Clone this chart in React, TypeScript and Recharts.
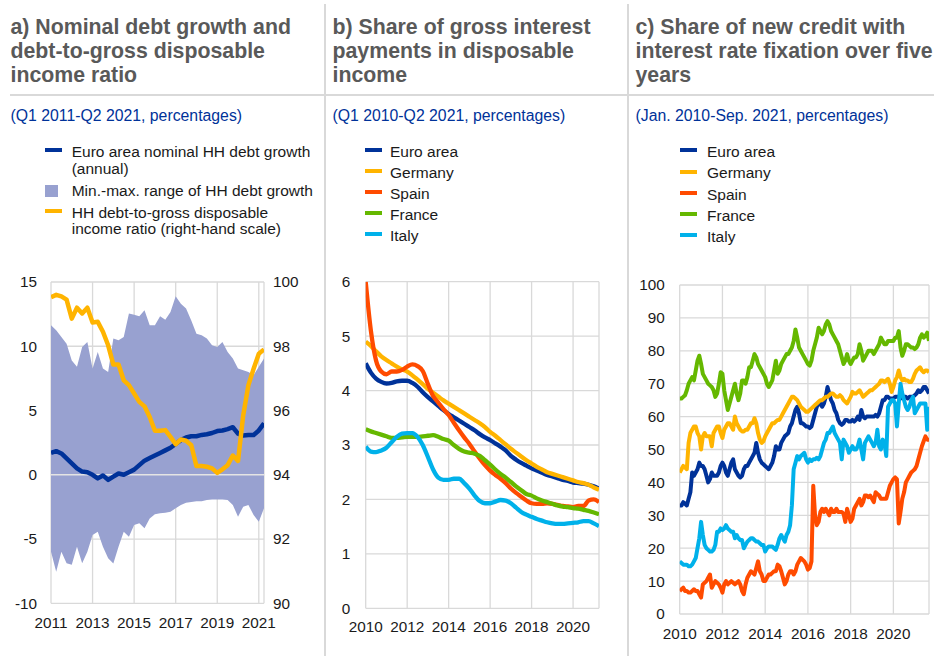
import React from "react";
import {
  ComposedChart,
  LineChart,
  Line,
  Area,
  XAxis,
  YAxis,
  CartesianGrid,
  ReferenceLine,
} from "recharts";

const FONT = "'Liberation Sans', Arial, Helvetica, sans-serif";
const C_EA = "#003299";
const C_DE = "#ffb400";
const C_ES = "#ff4b00";
const C_FR = "#65b800";
const C_IT = "#00b1ea";
const C_BAND = "#98a1d0";
const GRID = "#d9d9d9";
const TITLE = "#595959";
const SUB = "#003299";

// ---------------- Panel a (quarterly, Q1 2011 - Q2 2021) ----------------
const aStart = { year: 2011, q: 1, count: 42 };
const aEaGrowth = [
  1.7, 1.84, 1.66, 1.27, 0.88, 0.5, 0.25, 0.2, 0.0, -0.28, -0.05, -0.4, -0.15, 0.1, 0.0, 0.2,
  0.4, 0.75, 1.1, 1.3, 1.5, 1.7, 1.9, 2.1, 2.4, 2.7, 2.9, 3.0, 3.0, 3.1, 3.15, 3.25,
  3.4, 3.45, 3.55, 3.7, 3.2, 3.05, 3.1, 3.1, 3.45, 4.0,
];
const aRangeMin = [
  -5.98, -7.54, -5.98, -6.89, -7.0, -5.6, -6.89, -5.98, -4.69, -4.43, -5.6, -6.5, -6.9, -5.6, -4.43, -4.82,
  -3.91, -3.78, -4.17, -3.4, -3.08, -3.0, -2.95, -2.87, -2.6, -2.35, -2.17, -2.12, -2.05, -2.05, -1.97, -1.92,
  -1.92, -1.92, -1.97, -2.35, -3.26, -2.48, -2.35, -3.13, -3.65, -2.6,
];
const aRangeMax = [
  11.63, 11.24, 10.73, 10.2, 8.9, 8.4, 9.95, 10.34, 8.26, 9.56, 8.26, 8.0, 10.6, 10.47, 10.73, 12.54,
  12.46, 12.33, 12.8, 11.63, 11.63, 12.33, 12.07, 12.67, 13.89, 13.3, 12.93, 12.0, 10.98, 10.85, 10.6, 10.08,
  9.95, 10.34, 9.56, 9.04, 8.26, 8.13, 8.0, 7.75, 8.4, 9.04,
];
const aDebtRatio = [
  99.53, 99.6, 99.55, 99.45, 98.86, 99.2, 99.02, 99.2, 98.74, 98.76, 98.45, 98.03, 97.43, 97.43, 96.94, 96.79,
  96.53, 96.27, 96.13, 95.8, 95.37, 95.37, 95.39, 95.18, 94.95, 95.1, 95.06, 94.92, 94.27, 94.27, 94.25, 94.2,
  94.06, 94.17, 94.3, 94.6, 94.43, 95.85, 96.79, 97.3, 97.77, 97.9,
];
const aYearTicks = [2011, 2013, 2015, 2017, 2019, 2021];
const aLeftTicks = [-10, -5, 0, 5, 10, 15];
const aRightTicks = [90, 92, 94, 96, 98, 100];

// ---------------- Panel b (quarterly, Q1 2010 - Q2 2021) ----------------
const bStart = { year: 2010, q: 1, count: 46 };
const bEA = [
  4.5, 4.33, 4.22, 4.16, 4.13, 4.14, 4.17, 4.18, 4.18, 4.14, 4.07, 3.97, 3.88, 3.8, 3.72, 3.64,
  3.57, 3.51, 3.45, 3.39, 3.33, 3.27, 3.2, 3.14, 3.09, 3.03, 2.97, 2.9, 2.8, 2.73, 2.67, 2.62,
  2.57, 2.53, 2.49, 2.45, 2.42, 2.39, 2.36, 2.34, 2.31, 2.3, 2.29, 2.27, 2.24, 2.2,
];
const bDE = [
  4.9, 4.82, 4.72, 4.63, 4.56, 4.5, 4.44, 4.39, 4.35, 4.28, 4.2, 4.12, 4.03, 3.96, 3.89, 3.82,
  3.76, 3.7, 3.64, 3.58, 3.52, 3.46, 3.4, 3.33, 3.24, 3.17, 3.09, 3.01, 2.93, 2.86, 2.79, 2.72,
  2.66, 2.6, 2.55, 2.5, 2.47, 2.44, 2.41, 2.38, 2.35, 2.32, 2.3, 2.27, 2.22, 2.18,
];
const bES = [
  6.0, 5.1, 4.55, 4.35, 4.3, 4.35, 4.35, 4.38, 4.44, 4.48, 4.45, 4.36, 4.12, 3.9, 3.78, 3.66,
  3.55, 3.41, 3.27, 3.14, 3.02, 2.88, 2.75, 2.63, 2.53, 2.45, 2.38, 2.3, 2.2, 2.12, 2.05, 1.98,
  1.93, 1.92, 1.92, 1.93, 1.92, 1.9, 1.88, 1.87, 1.86, 1.88, 1.88, 1.98, 2.0, 1.95,
];
const bFR = [
  3.29, 3.25, 3.22, 3.19, 3.16, 3.13, 3.13, 3.14, 3.15, 3.15, 3.15, 3.16, 3.17, 3.18, 3.15, 3.11,
  3.08, 3.0, 2.93, 2.88, 2.86, 2.84, 2.8, 2.72, 2.64, 2.55, 2.47, 2.4, 2.32, 2.24, 2.17, 2.1,
  2.07, 2.02, 1.98, 1.95, 1.92, 1.89, 1.87, 1.86, 1.84, 1.83, 1.81, 1.79, 1.76, 1.73,
];
const bIT = [
  2.97, 2.88, 2.87, 2.9, 2.95, 3.05, 3.15, 3.21, 3.22, 3.22, 3.15, 3.0, 2.78, 2.55, 2.4, 2.36,
  2.36, 2.38, 2.38, 2.3, 2.2, 2.07, 1.97, 1.93, 1.93, 1.96, 1.99, 1.98, 1.93, 1.85, 1.77, 1.72,
  1.68, 1.64, 1.61, 1.58, 1.56, 1.55, 1.55, 1.56, 1.57, 1.58, 1.6, 1.6, 1.56, 1.51,
];
const bYearTicks = [2010, 2012, 2014, 2016, 2018, 2020];
const bYTicks = [0, 1, 2, 3, 4, 5, 6];

// ---------------- Panel c (monthly, Jan 2010 - Sep 2021) ----------------
const cStart = { year: 2010, month: 1, count: 141 };
const cEA = [
  33, 33, 34, 33.5, 33, 35, 37, 43, 42, 43, 44, 46,
  45, 45, 44, 42, 40, 41, 43, 42, 42, 42, 43, 45,
  46, 45, 43, 42, 44, 46, 47, 44, 43, 42, 41.5, 42,
  44, 45, 45, 46, 47, 48, 49, 52, 49, 47, 46, 45.5,
  45, 44.5, 44, 45, 46, 48, 51, 50, 50, 52, 53, 54,
  54.5, 55, 57, 58, 60, 62, 63, 61, 58, 58, 57.5, 57,
  57, 56.5, 57, 59, 61, 63, 64, 64, 63, 64, 66, 69,
  67, 65, 64, 62, 61, 59, 58, 57.5, 58, 59, 59, 58.5,
  58.5, 59, 58.5, 59, 60, 59, 62, 60, 59.5, 60, 60, 60,
  60, 60, 60.5, 60, 61, 63, 65, 65, 66, 66, 65.5, 65.5,
  65.5, 66, 66, 66, 65.5, 66, 66, 66, 65.5, 66, 66, 66,
  66.5, 67, 68, 67.5, 68, 69, 69, 68, 67,
];
const cDE = [
  43, 44, 45, 44.5, 44, 52, 55, 56, 57, 57, 55, 54,
  50, 54, 55, 54, 54, 54, 51, 55, 56, 57, 57, 55,
  53.5, 56, 57, 58, 58, 57, 56, 60, 58, 57, 56, 55.5,
  55.5, 56, 56, 57, 58, 58, 59.5, 58, 55, 53, 52, 52.5,
  54, 55, 56, 57, 58, 58, 58.5, 59, 59, 60, 61, 62,
  63, 64, 65, 66, 66, 65.5, 65, 64, 63, 62.5, 62, 61.5,
  61.5, 62, 62.5, 63, 63.5, 64, 64.5, 65, 65, 65.5, 66, 66,
  66.5, 67, 67, 66.5, 66, 66, 66.5, 66, 65, 64.5, 64, 65,
  66, 67.5, 67, 67, 67.5, 68, 67, 66, 66.5, 67, 67.5, 68,
  68, 68.5, 69, 69.5, 70, 71, 71, 70.5, 71, 71.5, 70, 67.5,
  69, 71, 72, 74, 72, 71, 71.5, 71, 71, 70.5, 70.5, 71.5,
  73, 74, 74.5, 75, 74, 73.5, 74, 74, 73.5,
];
const cES = [
  7, 7.5, 8, 7, 7, 6.5, 6.5, 7, 7.5, 7, 7, 6,
  5, 9, 9.5, 10, 11, 12, 8, 9, 10, 9.5, 9, 8,
  6.5, 9, 10, 9, 9.5, 10, 9.5, 9, 9.5, 10, 9, 7,
  6, 9, 11, 12, 13, 12.5, 12, 14, 16, 13, 12, 10,
  10, 11, 12, 12, 12.5, 13, 13, 15, 14.5, 13, 11, 9,
  10, 12, 13, 13, 12, 13, 15, 16, 17, 16.5, 16, 15,
  13.5, 14, 16, 39, 30, 27, 28, 31, 32, 31, 32, 31,
  30, 32, 31, 31, 32, 31, 31, 31, 30.5, 28, 32, 30,
  28, 29, 32, 33, 34, 35, 33, 34, 36, 36, 35.5, 36,
  35, 34, 37, 36.5, 36, 35, 35, 35, 35, 37, 39, 40,
  41, 41.5, 41, 27.5, 31, 35, 37, 40, 41, 42, 43, 43.5,
  44, 45, 47, 49, 51, 52.5, 54, 53, 53,
];
const cFR = [
  65.5, 65.5, 66, 66.5, 68, 70, 71, 72, 71, 74, 77, 78.5,
  76, 73, 72, 71, 70, 69.5, 69, 68, 66, 67, 70, 73.5,
  73, 68, 65, 62, 64, 66, 68, 70, 67, 65, 67, 71,
  71, 70, 72, 75, 75, 77, 79, 78, 76, 75, 74, 73,
  72, 70, 69, 70, 71, 74, 77, 73, 74, 76, 77, 78,
  79, 79, 80, 81, 83, 86.5, 84, 81, 80, 79, 78, 77,
  76, 75.5, 77, 80, 82, 84, 87, 86, 85, 86, 88, 89,
  88, 86, 85, 84, 83, 82, 80, 78, 76, 77, 79, 77,
  76, 77, 78, 78, 79, 82, 80, 77, 78, 79, 80, 80,
  80, 79, 80, 81, 82, 84, 83, 82, 82, 83, 83, 83,
  83, 84, 84, 86, 81, 78.5, 80, 82, 82, 81.5, 81, 81,
  80.5, 81, 82, 84, 85, 84, 84.5, 85.5, 83,
];
const cIT = [
  16, 15.5, 15, 15, 15, 14.5, 14.5, 15, 16, 17, 20, 23,
  28, 24, 21, 20, 19.5, 19, 19, 19.5, 21, 25, 25, 26,
  25.5, 26, 27, 26, 25.5, 25, 25, 23, 24, 23, 22.5, 22.5,
  20, 21, 22, 22.5, 23, 23, 22.5, 22, 22, 21.5, 21, 21,
  19, 20, 20.5, 20.5, 20.5, 20, 19.5, 21, 23, 24, 23, 22,
  24, 25, 27, 33, 44, 46, 48, 47, 48, 48.5, 49, 47,
  46, 47, 46.5, 47, 47, 47.5, 47, 48, 50, 52, 53, 55,
  55, 56, 57, 55, 54, 53, 52, 47, 53, 52, 51, 49,
  50, 51, 50, 50, 51, 53, 50, 47, 52, 53, 54, 53,
  52, 51, 52, 56, 51, 50, 53, 52, 48, 63, 64, 65,
  65, 64, 57, 64, 70, 67, 65, 63, 62, 63, 65, 66,
  61, 62, 63, 64, 64, 64, 64, 56, 63,
];
const cYearTicks = [2010, 2012, 2014, 2016, 2018, 2020];
const cYTicks = [0, 10, 20, 30, 40, 50, 60, 70, 80, 90, 100];

// ---------------- period helpers ----------------
function quarterLabels(year: number, q: number, count: number): string[] {
  const out: string[] = [];
  let y = year;
  let qq = q;
  for (let i = 0; i < count; i++) {
    out.push(`${y}Q${qq}`);
    qq++;
    if (qq > 4) {
      qq = 1;
      y++;
    }
  }
  return out;
}
function monthLabels(year: number, month: number, count: number): string[] {
  const out: string[] = [];
  let y = year;
  let m = month;
  for (let i = 0; i < count; i++) {
    out.push(`${y}-${String(m).padStart(2, "0")}`);
    m++;
    if (m > 12) {
      m = 1;
      y++;
    }
  }
  return out;
}
function periodTime(label: string): number {
  if (label.includes("Q")) {
    const [y, q] = label.split("Q");
    return Number(y) + (Number(q) - 1) / 4;
  }
  const [y, m] = label.split("-");
  return Number(y) + (Number(m) - 1) / 12;
}

const aPeriods = quarterLabels(aStart.year, aStart.q, aStart.count);
const bPeriods = quarterLabels(bStart.year, bStart.q, bStart.count);
const cPeriods = monthLabels(cStart.year, cStart.month, cStart.count);

const aData = aPeriods.map((p, i) => ({
  t: periodTime(p),
  ea: aEaGrowth[i],
  range: [aRangeMin[i], aRangeMax[i]],
  ratio: aDebtRatio[i],
}));
const bData = bPeriods.map((p, i) => ({
  t: periodTime(p),
  ea: bEA[i],
  de: bDE[i],
  es: bES[i],
  fr: bFR[i],
  it: bIT[i],
}));
const cData = cPeriods.map((p, i) => ({
  t: periodTime(p),
  ea: cEA[i],
  de: cDE[i],
  es: cES[i],
  fr: cFR[i],
  it: cIT[i],
}));

const tickStyle = { fill: "#1a1a1a", fontSize: 15.3, fontFamily: FONT };
const yearFmt = (v: number) => String(Math.round(v));

// ---------------- layout pieces ----------------
function Title({ x, lines }: { x: number; lines: string[] }) {
  return (
    <div
      style={{
        position: "absolute",
        left: x,
        top: 15,
        fontFamily: FONT,
        fontWeight: "bold",
        fontSize: 21.3,
        lineHeight: "24px",
        color: TITLE,
        whiteSpace: "nowrap",
      }}
    >
      {lines.map((l, i) => (
        <div key={i}>{l}</div>
      ))}
    </div>
  );
}

function Subtitle({ x, text }: { x: number; text: string }) {
  return (
    <div
      style={{
        position: "absolute",
        left: x,
        top: 107.3,
        fontFamily: FONT,
        fontSize: 15.8,
        lineHeight: "18px",
        color: SUB,
        whiteSpace: "nowrap",
      }}
    >
      {text}
    </div>
  );
}

type LegendEntry = { color: string; lines: string[]; square?: boolean; baseline: number };

function LegendBlock({ markerX, textX, entries }: { markerX: number; textX: number; entries: LegendEntry[] }) {
  return (
    <>
      {entries.map((e, i) => (
        <React.Fragment key={i}>
          {e.square ? (
            <div
              style={{
                position: "absolute",
                left: markerX,
                top: e.baseline - 12,
                width: 13,
                height: 12,
                background: e.color,
              }}
            />
          ) : (
            <div
              style={{
                position: "absolute",
                left: markerX,
                top: e.baseline - 9.5,
                width: 17,
                height: 4,
                background: e.color,
              }}
            />
          )}
          <div
            style={{
              position: "absolute",
              left: textX,
              top: e.baseline - 13.68,
              fontFamily: FONT,
              fontSize: 15.5,
              lineHeight: "16.6px",
              color: "#1a1a1a",
              whiteSpace: "nowrap",
            }}
          >
            {e.lines.map((l, j) => (
              <div key={j}>{l}</div>
            ))}
          </div>
        </React.Fragment>
      ))}
    </>
  );
}

const countryNames = ["Euro area", "Germany", "Spain", "France", "Italy"];
const countryColors = [C_EA, C_DE, C_ES, C_FR, C_IT];
const countryKeys = ["ea", "de", "es", "fr", "it"];

function countryLegend(first: number, step: number): LegendEntry[] {
  return countryNames.map((n, i) => ({ color: countryColors[i], lines: [n], baseline: first + i * step }));
}

export default function App() {
  return (
    <div
      style={{
        position: "absolute",
        left: 0,
        top: 0,
        width: 934,
        height: 656,
        background: "#ffffff",
        overflow: "hidden",
      }}
    >
      {/* separators */}
      <div style={{ position: "absolute", left: 10, top: 93.5, width: 924, height: 2.5, background: GRID }} />
      <div style={{ position: "absolute", left: 323.5, top: 4, width: 2, height: 652, background: GRID }} />
      <div style={{ position: "absolute", left: 626.5, top: 4, width: 2, height: 652, background: GRID }} />

      <Title x={10.5} lines={["a) Nominal debt growth and", "debt-to-gross disposable", "income ratio"]} />
      <Title x={332.5} lines={["b) Share of gross interest", "payments in disposable", "income"]} />
      <Title x={635.5} lines={["c) Share of new credit with", "interest rate fixation over five", "years"]} />

      <Subtitle x={10.5} text="(Q1 2011-Q2 2021, percentages)" />
      <Subtitle x={332.5} text="(Q1 2010-Q2 2021, percentages)" />
      <Subtitle x={635.5} text="(Jan. 2010-Sep. 2021, percentages)" />

      <LegendBlock
        markerX={45}
        textX={71.7}
        entries={[
          { color: C_EA, lines: ["Euro area nominal HH debt growth", "(annual)"], baseline: 157.7 },
          { color: C_BAND, lines: ["Min.-max. range of HH debt growth"], square: true, baseline: 196.9 },
          { color: C_DE, lines: ["HH debt-to-gross disposable", "income ratio (right-hand scale)"], baseline: 218.3 },
        ]}
      />
      <LegendBlock markerX={364.5} textX={390} entries={countryLegend(157.8, 20.9)} />
      <LegendBlock markerX={680} textX={707} entries={countryLegend(157.8, 21.2)} />

      {/* Panel a */}
      <div style={{ position: "absolute", left: 0, top: 270 }}>
        <ComposedChart width={320} height={380} data={aData} margin={{ top: 12, right: 11, bottom: 16.7, left: 11 }}>
          <CartesianGrid stroke={GRID} strokeWidth={1.3} yAxisId="left" />
          <XAxis
            dataKey="t"
            type="number"
            domain={[2011, 2021.25]}
            ticks={aYearTicks}
            interval={0}
            tickFormatter={yearFmt}
            axisLine={false}
            tickLine={false}
            tickSize={0}
            tickMargin={14}
            height={30}
            tick={tickStyle}
            allowDataOverflow
          />
          <YAxis
            yAxisId="left"
            domain={[-10, 15]}
            ticks={aLeftTicks}
            interval={0}
            axisLine={false}
            tickLine={false}
            tickSize={0}
            tickMargin={14}
            width={40}
            tick={tickStyle}
            allowDataOverflow
          />
          <YAxis
            yAxisId="right"
            orientation="right"
            domain={[90, 100]}
            ticks={aRightTicks}
            interval={0}
            axisLine={false}
            tickLine={false}
            tickSize={0}
            tickMargin={9}
            width={45}
            tick={tickStyle}
            allowDataOverflow
          />
          <Area
            yAxisId="left"
            dataKey="range"
            type="linear"
            stroke="none"
            fill={C_BAND}
            fillOpacity={1}
            isAnimationActive={false}
          />
          <ReferenceLine yAxisId="left" y={0} stroke="#e4e4e4" strokeWidth={1.5} />
          <Line
            yAxisId="left"
            dataKey="ea"
            type="linear"
            stroke={C_EA}
            strokeWidth={4.5}
            strokeLinejoin="round"
            dot={false}
            activeDot={false}
            isAnimationActive={false}
          />
          <Line
            yAxisId="right"
            dataKey="ratio"
            type="linear"
            stroke={C_DE}
            strokeWidth={4.5}
            strokeLinejoin="round"
            dot={false}
            activeDot={false}
            isAnimationActive={false}
          />
        </ComposedChart>
      </div>

      {/* Panel b */}
      <div style={{ position: "absolute", left: 325, top: 270 }}>
        <LineChart width={305} height={380} data={bData} margin={{ top: 11.7, right: 31, bottom: 11.7, left: 10.7 }}>
          <CartesianGrid stroke={GRID} strokeWidth={1.3} />
          <XAxis
            dataKey="t"
            type="number"
            domain={[2010, 2021.25]}
            ticks={bYearTicks}
            interval={0}
            tickFormatter={yearFmt}
            axisLine={false}
            tickLine={false}
            tickSize={0}
            tickMargin={12.7}
            height={30}
            tick={tickStyle}
            allowDataOverflow
          />
          <YAxis
            domain={[0, 6]}
            ticks={bYTicks}
            interval={0}
            axisLine={false}
            tickLine={false}
            tickSize={0}
            tickMargin={15.5}
            width={30}
            tick={tickStyle}
            allowDataOverflow
          />
          {countryKeys.map((k, i) => (
            <Line
              key={k}
              dataKey={k}
              type="monotone"
              stroke={countryColors[i]}
              strokeWidth={4.3}
              strokeLinejoin="round"
              dot={false}
              activeDot={false}
              isAnimationActive={false}
            />
          ))}
        </LineChart>
      </div>

      {/* Panel c */}
      <div style={{ position: "absolute", left: 628, top: 270 }}>
        <LineChart width={306} height={386} data={cData} margin={{ top: 15, right: 5, bottom: 12, left: 11.7 }}>
          <CartesianGrid stroke={GRID} strokeWidth={1.3} />
          <XAxis
            dataKey="t"
            type="number"
            domain={[2010, 2021 + 8 / 12]}
            ticks={cYearTicks}
            interval={0}
            tickFormatter={yearFmt}
            axisLine={false}
            tickLine={false}
            tickSize={0}
            tickMargin={14.3}
            height={30}
            tick={tickStyle}
            allowDataOverflow
          />
          <YAxis
            domain={[0, 100]}
            ticks={cYTicks}
            interval={0}
            axisLine={false}
            tickLine={false}
            tickSize={0}
            tickMargin={15}
            width={40}
            tick={tickStyle}
            allowDataOverflow
          />
          {countryKeys.map((k, i) => (
            <Line
              key={k}
              dataKey={k}
              type="linear"
              stroke={countryColors[i]}
              strokeWidth={4}
              strokeLinejoin="round"
              dot={false}
              activeDot={false}
              isAnimationActive={false}
            />
          ))}
        </LineChart>
      </div>
    </div>
  );
}
